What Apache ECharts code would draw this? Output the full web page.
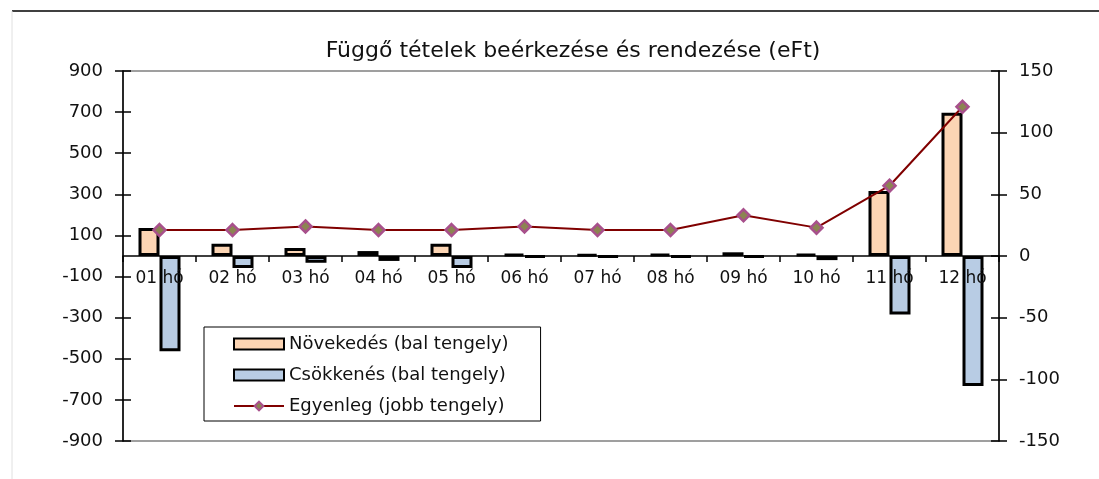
<!DOCTYPE html>
<html>
<head>
<meta charset="utf-8">
<script src="https://cdn.jsdelivr.net/npm/echarts@6/dist/echarts.min.js"></script>
<style>
  html, body { margin: 0; padding: 0; background: #fff; }
  #chart { width: 1099px; height: 479px; }
</style>
</head>
<body>
<div id="chart"></div>
<script>
// adatok
var months = ['01 hó', '02 hó', '03 hó', '04 hó', '05 hó', '06 hó', '07 hó', '08 hó', '09 hó', '10 hó', '11 hó', '12 hó'];
var novekedes = [136, 60, 39, 24, 60, 10, 8, 10, 18, 10, 316, 697];
var csokkenes = [-463, -58, -33, -24, -58, -5, -4, -5, -5, -20, -284, -633];
var egyenleg = [21, 21, 24, 21, 21, 24, 21, 21, 33, 23, 57, 121];

var leftTicks = { min: -900, max: 900, interval: 200 };
var rightTicks = { min: -150, max: 150, interval: 50 };

var font = 'DejaVu Sans';
var myChart = echarts.init(document.getElementById('chart'));

// tengely alap beállítás
function valueAxis(pos, ticks, inner) {
  return {
    type: 'value',
    position: pos,
    min: ticks.min,
    max: ticks.max,
    interval: ticks.interval,
    splitLine: { show: false },
    axisLine: { show: !inner, lineStyle: { color: '#000', width: 1.5 } },
    axisTick: { show: true, inside: inner, length: 8, lineStyle: { color: '#000', width: 1.5 } },
    axisLabel: {
      show: !inner,
      margin: 20,
      color: '#111',
      fontFamily: font,
      fontSize: 18
    }
  };
}

var option = {
  backgroundColor: '#ffffff',
  animation: false,
  title: {
    text: 'Függő tételek beérkezése és rendezése (eFt)',
    left: 568,
    textAlign: 'center',
    top: 35,
    textStyle: { fontFamily: font, fontSize: 22, fontWeight: 'normal', color: '#111' }
  },
  graphic: [
    { type: 'line', shape: { x1: 12, y1: 11, x2: 1099, y2: 11 }, style: { stroke: '#000', lineWidth: 1.5 } },
    { type: 'line', shape: { x1: 12, y1: 11, x2: 12, y2: 479 }, style: { stroke: '#e0e0e0', lineWidth: 1 } }
  ],
  grid: {
    left: 123,
    right: 100,
    top: 71,
    bottom: 38,
    show: true,
    borderColor: '#808080',
    borderWidth: 1.5,
    backgroundColor: 'transparent'
  },
  legend: {
    orient: 'vertical',
    left: 204,
    top: 327,
    padding: [7, 32, 5, 29],
    itemWidth: 50,
    itemHeight: 11,
    itemGap: 11,
    backgroundColor: '#fff',
    borderColor: '#000',
    borderWidth: 1,
    textStyle: { fontFamily: font, fontSize: 18, color: '#111', lineHeight: 20 },
    data: [
      { name: 'Növekedés (bal tengely)', icon: 'rect' },
      { name: 'Csökkenés (bal tengely)', icon: 'rect' },
      'Egyenleg (jobb tengely)'
    ]
  },
  xAxis: [
    {
      // tengelyvonal a nullánál
      type: 'category',
      data: months,
      axisLine: { onZero: true, lineStyle: { color: '#000', width: 1.5 } },
      axisTick: { show: true, length: 6, lineStyle: { color: '#000', width: 1.5 } },
      axisLabel: { show: false },
      splitLine: { show: false }
    },
    {
      // feliratok a nulla vonal alatt, az oszlopok fölé rajzolva
      type: 'category',
      data: months,
      position: 'bottom',
      offset: -185,
      z: 10,
      axisLine: { show: false, onZero: false },
      axisTick: { show: false },
      axisLabel: { margin: 14, color: '#111', fontFamily: font, fontSize: 17 },
      splitLine: { show: false }
    }
  ],
  yAxis: [
    valueAxis('left', leftTicks, false),
    valueAxis('right', rightTicks, false),
    valueAxis('left', leftTicks, true),
    valueAxis('right', rightTicks, true)
  ],
  series: [
    {
      name: 'Növekedés (bal tengely)',
      type: 'bar',
      yAxisIndex: 0,
      barWidth: 21,
      barGap: 0,
      itemStyle: { color: '#fcd5b4', borderColor: '#000', borderWidth: 3 },
      data: novekedes
    },
    {
      name: 'Csökkenés (bal tengely)',
      type: 'bar',
      yAxisIndex: 0,
      barWidth: 21,
      barGap: 0,
      itemStyle: { color: '#b8cce4', borderColor: '#000', borderWidth: 3 },
      data: csokkenes
    },
    {
      name: 'Egyenleg (jobb tengely)',
      type: 'line',
      yAxisIndex: 1,
      z: 5,
      symbol: 'diamond',
      symbolSize: 12,
      lineStyle: { color: '#800000', width: 2 },
      itemStyle: { color: '#8c8452', borderColor: '#a8508c', borderWidth: 2.5 },
      data: egyenleg
    }
  ]
};

myChart.setOption(option);
window.onresize = function () {
  myChart.resize();
};
</script>
</body>
</html>
